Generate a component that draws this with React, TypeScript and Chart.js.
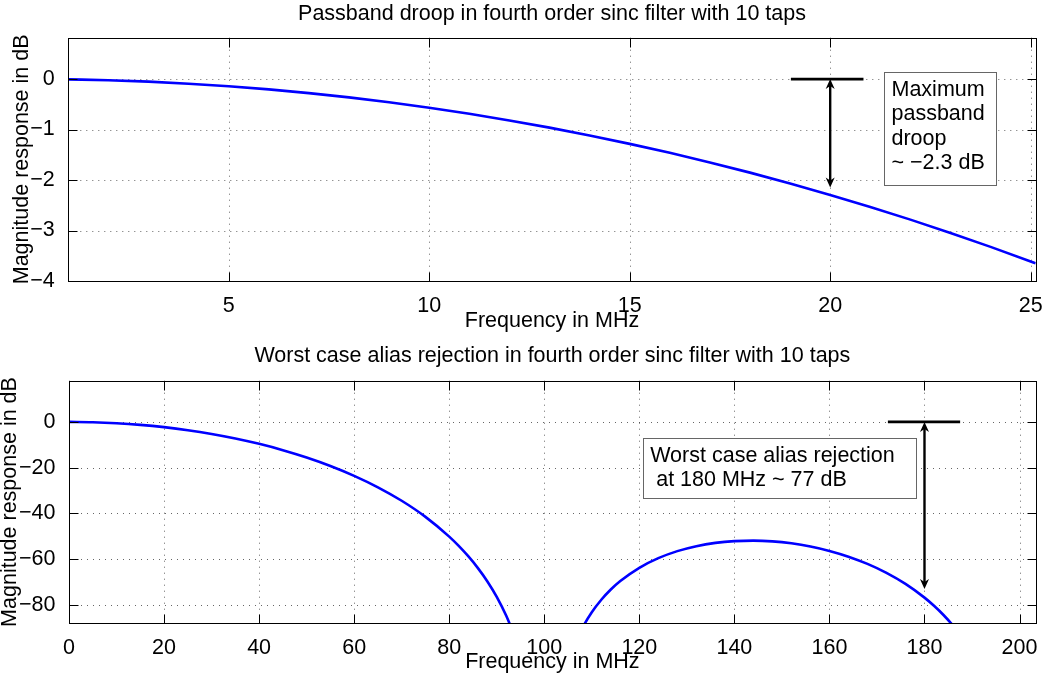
import React, { useEffect, useRef } from "react";
import { Chart, registerables } from "chart.js";

Chart.register(...registerables);

const FONT = '"Liberation Sans", Arial, Helvetica, sans-serif';
const FONT_SIZE = 21.5;

// ---------- Top subplot: passband droop ----------
const TOP_TITLE = "Passband droop in fourth order sinc filter with 10 taps";
const TOP_FREQ = [1, 2, 3, 4, 5, 6, 7, 8, 9, 10, 11, 12, 13, 14, 15, 16, 17, 18, 19, 20, 21, 22, 23, 24, 25, 25.125];
const TOP_DB = [
  -0.006, -0.023, -0.051, -0.091, -0.142, -0.204, -0.278, -0.363, -0.46, -0.568,
  -0.687, -0.819, -0.962, -1.116, -1.283, -1.461, -1.651, -1.853, -2.068, -2.294,
  -2.533, -2.784, -3.047, -3.324, -3.613, -3.65,
];
const TOP_X_TICKS = [5, 10, 15, 20, 25];
const TOP_Y_TICKS = [-4, -3, -2, -1, 0];
const TOP_X_RANGE = [1, 25.125];
const TOP_Y_RANGE = [-4, 0.82];
const TOP_NOTE_LINES = ["Maximum", "passband", "droop", "~ \u22122.3 dB"];

// ---------- Bottom subplot: alias rejection ----------
const BOT_TITLE = "Worst case alias rejection in fourth order sinc filter with 10 taps";
const BOT_FREQ = [
  0, 5, 10, 15, 20, 25, 30, 35, 40, 45, 50, 55, 60, 65, 70, 75, 80,
  82, 84, 86, 88, 90, 92, 94, 96, 98, 100,
  102, 104, 106, 108, 110, 112, 114, 116,
  120, 124, 128, 132, 136, 140, 144, 148, 152, 156, 160, 164, 168, 172, 176, 180,
  182, 184, 186, 188, 192, 196, 200,
];
const BOT_DB = [
  0, -0.142, -0.568, -1.283, -2.294, -3.613, -5.254, -7.237, -9.589, -12.344, -15.547, -19.258, -23.561, -28.573, -34.463, -41.496, -50.115,
  -54.17, -58.684, -63.773, -69.606, -76.451, -84.736, -95.297, -109.98, -134.69, null,
  -136.03, -112.67, -99.33, -90.12, -83.19, -77.71, -73.24, -69.53,
  -63.74, -59.53, -56.46, -54.3, -52.87, -52.08, -51.87, -52.2, -53.06, -54.44, -56.37, -58.88, -62.05, -65.96, -70.79, -76.78,
  -80.34, -84.37, -89.0, -94.38, -108.65, -133.09, null,
];
const BOT_X_TICKS = [0, 20, 40, 60, 80, 100, 120, 140, 160, 180, 200];
const BOT_Y_TICKS = [-80, -60, -40, -20, 0];
const BOT_X_RANGE = [0, 203.4];
const BOT_Y_RANGE = [-88, 18];
const BOT_NOTE_LINES = ["Worst case alias rejection", " at 180 MHz ~ 77 dB"];

const X_LABEL = "Frequency in MHz";
const Y_LABEL = "Magnitude response in dB";

const fmt = (v: number | string) => String(v).replace("-", "\u2212");
const al = (v: number) => Math.round(v) + 0.5;

function head(ctx: CanvasRenderingContext2D, x: number, tipY: number, dir: number) {
  const L = 10, W = 4.5, N = 3;
  ctx.beginPath();
  ctx.moveTo(x, tipY);
  ctx.lineTo(x - W, tipY - dir * L);
  ctx.lineTo(x, tipY - dir * (L - N));
  ctx.lineTo(x + W, tipY - dir * L);
  ctx.closePath();
  ctx.fill();
}

function makePlugin(spec: any) {
  return {
    id: "matlab",
    beforeDatasetsDraw(chart: any) {
      const { ctx, chartArea: a } = chart;
      const xs = chart.scales.x, ys = chart.scales.y;
      ctx.save();
      ctx.strokeStyle = "rgba(0,0,0,0.6)";
      ctx.lineWidth = 1;
      ctx.setLineDash([1, 5]);
      xs.ticks.forEach((t: any) => {
        const p = al(xs.getPixelForValue(t.value));
        ctx.beginPath(); ctx.moveTo(p, a.top); ctx.lineTo(p, a.bottom); ctx.stroke();
      });
      ys.ticks.forEach((t: any) => {
        const p = al(ys.getPixelForValue(t.value));
        ctx.beginPath(); ctx.moveTo(a.left, p); ctx.lineTo(a.right, p); ctx.stroke();
      });
      ctx.restore();
    },
    afterDatasetsDraw(chart: any) {
      const { ctx, chartArea: a } = chart;
      const xs = chart.scales.x, ys = chart.scales.y;
      ctx.save();
      ctx.setLineDash([]);
      ctx.strokeStyle = "#000";
      ctx.lineWidth = 1;
      const L = al(a.left), R = al(a.right), T = al(a.top), B = al(a.bottom);
      ctx.strokeRect(L, T, R - L, B - T);
      const TL = 9;
      ctx.beginPath();
      xs.ticks.forEach((t: any) => {
        const p = al(xs.getPixelForValue(t.value));
        ctx.moveTo(p, B); ctx.lineTo(p, B - TL);
        ctx.moveTo(p, T); ctx.lineTo(p, T + TL);
      });
      ys.ticks.forEach((t: any) => {
        const p = al(ys.getPixelForValue(t.value));
        ctx.moveTo(L, p); ctx.lineTo(L + TL, p);
        ctx.moveTo(R, p); ctx.lineTo(R - TL, p);
      });
      ctx.stroke();

      // annotations
      const { bar, arrow, box } = spec.annot;
      ctx.strokeStyle = "#000";
      ctx.fillStyle = "#000";
      ctx.lineWidth = 2.8;
      const by = ys.getPixelForValue(bar.y);
      ctx.beginPath();
      ctx.moveTo(xs.getPixelForValue(bar.x0), by);
      ctx.lineTo(xs.getPixelForValue(bar.x1), by);
      ctx.stroke();

      const ax = xs.getPixelForValue(arrow.x);
      const ay0 = ys.getPixelForValue(arrow.y0);
      const ay1 = ys.getPixelForValue(arrow.y1);
      ctx.lineWidth = 2.4;
      ctx.beginPath();
      ctx.moveTo(ax, ay0 + 6);
      ctx.lineTo(ax, ay1 - 6);
      ctx.stroke();
      head(ctx, ax, ay0, -1);
      head(ctx, ax, ay1, 1);

      const bx0 = al(xs.getPixelForValue(box.x0));
      const bx1 = al(xs.getPixelForValue(box.x1));
      const by0 = al(ys.getPixelForValue(box.y0));
      const by1 = al(ys.getPixelForValue(box.y1));
      ctx.fillStyle = "#fff";
      ctx.fillRect(bx0, by0, bx1 - bx0, by1 - by0);
      ctx.strokeStyle = "#666";
      ctx.lineWidth = 1;
      ctx.strokeRect(bx0, by0, bx1 - bx0, by1 - by0);
      ctx.fillStyle = "#000";
      ctx.font = `${FONT_SIZE}px ${FONT}`;
      ctx.textBaseline = "middle";
      ctx.textAlign = "left";
      box.lines.forEach((line: string, i: number) => {
        ctx.fillText(line, bx0 + box.padX, by0 + box.first + i * box.gap);
      });
      ctx.restore();
    },
  };
}

function makeConfig(spec: any): any {
  const font = (lh: any) => ({ family: FONT, size: FONT_SIZE, weight: "normal", lineHeight: lh });
  return {
    type: "line",
    data: {
      datasets: [
        {
          data: spec.freq.map((f: number, i: number) => ({ x: f, y: spec.db[i] })),
          borderColor: "#0000ff",
          borderWidth: 2.6,
          pointRadius: 0,
          fill: false,
          cubicInterpolationMode: "monotone",
          spanGaps: false,
          clip: 0,
        },
      ],
    },
    options: {
      animation: false,
      responsive: false,
      devicePixelRatio: 1,
      events: [],
      layout: { padding: { left: 0, right: spec.padRight, top: 0, bottom: 0 } },
      plugins: {
        legend: { display: false },
        tooltip: { enabled: false },
        title: {
          display: true,
          text: spec.title,
          fullSize: false,
          color: "#000",
          font: font(1.2),
          padding: spec.titlePad,
        },
      },
      scales: {
        x: {
          type: "linear",
          min: spec.xRange[0],
          max: spec.xRange[1],
          afterBuildTicks: (s: any) => { s.ticks = spec.xTicks.map((v: number) => ({ value: v })); },
          afterFit: (s: any) => { s.height = spec.xHeight; },
          grid: { display: false },
          border: { display: false },
          ticks: { autoSkip: false, maxRotation: 0, padding: spec.xTickPad, color: "#000", font: font(1.2), callback: fmt },
          title: { display: true, text: X_LABEL, color: "#000", font: font(spec.xTitleLH), padding: { top: 0, bottom: spec.xTitlePad } },
        },
        y: {
          type: "linear",
          min: spec.yRange[0],
          max: spec.yRange[1],
          afterBuildTicks: (s: any) => { s.ticks = spec.yTicks.map((v: number) => ({ value: v })); },
          afterFit: (s: any) => { s.width = spec.yWidth; },
          grid: { display: false },
          border: { display: false },
          ticks: { autoSkip: false, padding: 5.5, color: "#000", font: font(1.2), callback: fmt },
          title: { display: true, text: Y_LABEL, color: "#000", font: font(spec.yTitleLH), padding: { top: spec.yTitlePad, bottom: 0 } },
        },
      },
    },
    plugins: [makePlugin(spec)],
  };
}

const TOP_SPEC = {
  title: TOP_TITLE,
  freq: TOP_FREQ,
  db: TOP_DB,
  xTicks: TOP_X_TICKS,
  yTicks: TOP_Y_TICKS,
  xRange: TOP_X_RANGE,
  yRange: TOP_Y_RANGE,
  padRight: 11.3,
  titlePad: { top: 1.1, bottom: 10.8 },
  xHeight: 59,
  xTickPad: 4.3,
  xTitleLH: "22px",
  xTitlePad: 8,
  yWidth: 68.3,
  yTitleLH: "24px",
  yTitlePad: 10,
  annot: {
    bar: { y: 0, x0: 19.02, x1: 20.83 },
    arrow: { x: 20, y0: 0, y1: -2.15 },
    box: { x0: 21.33, x1: 24.13, y0: 0.15, y1: -2.09, lines: TOP_NOTE_LINES, padX: 7, first: 17.5, gap: 24.5 },
  },
};

const BOT_SPEC = {
  title: BOT_TITLE,
  freq: BOT_FREQ,
  db: BOT_DB,
  xTicks: BOT_X_TICKS,
  yTicks: BOT_Y_TICKS,
  xRange: BOT_X_RANGE,
  yRange: BOT_Y_RANGE,
  padRight: 11.3,
  titlePad: { top: 2.9, bottom: 12.0 },
  xHeight: 57.7,
  xTickPad: 4.3,
  xTitleLH: "22px",
  xTitlePad: 7.5,
  yWidth: 69,
  yTitleLH: "20px",
  yTitlePad: 0,
  annot: {
    bar: { y: 0, x0: 172.3, x1: 187.5 },
    arrow: { x: 180, y0: 0, y1: -73 },
    box: { x0: 120.7, x1: 178.3, y0: -7.0, y1: -33.05, lines: BOT_NOTE_LINES, padX: 6.7, first: 17.3, gap: 24.3 },
  },
};

export default function App() {
  const topRef = useRef<HTMLCanvasElement>(null);
  const botRef = useRef<HTMLCanvasElement>(null);
  useEffect(() => {
    const c1 = new Chart(topRef.current as HTMLCanvasElement, makeConfig(TOP_SPEC));
    const c2 = new Chart(botRef.current as HTMLCanvasElement, makeConfig(BOT_SPEC));
    return () => {
      c1.destroy();
      c2.destroy();
    };
  }, []);
  return (
    <div style={{ position: "absolute", left: 0, top: 0, width: 1047, height: 681, background: "#fff", overflow: "hidden" }}>
      <canvas ref={topRef} width={1047} height={340} style={{ position: "absolute", left: 0, top: 0, display: "block" }} />
      <canvas ref={botRef} width={1047} height={341} style={{ position: "absolute", left: 0, top: 340, display: "block" }} />
    </div>
  );
}
